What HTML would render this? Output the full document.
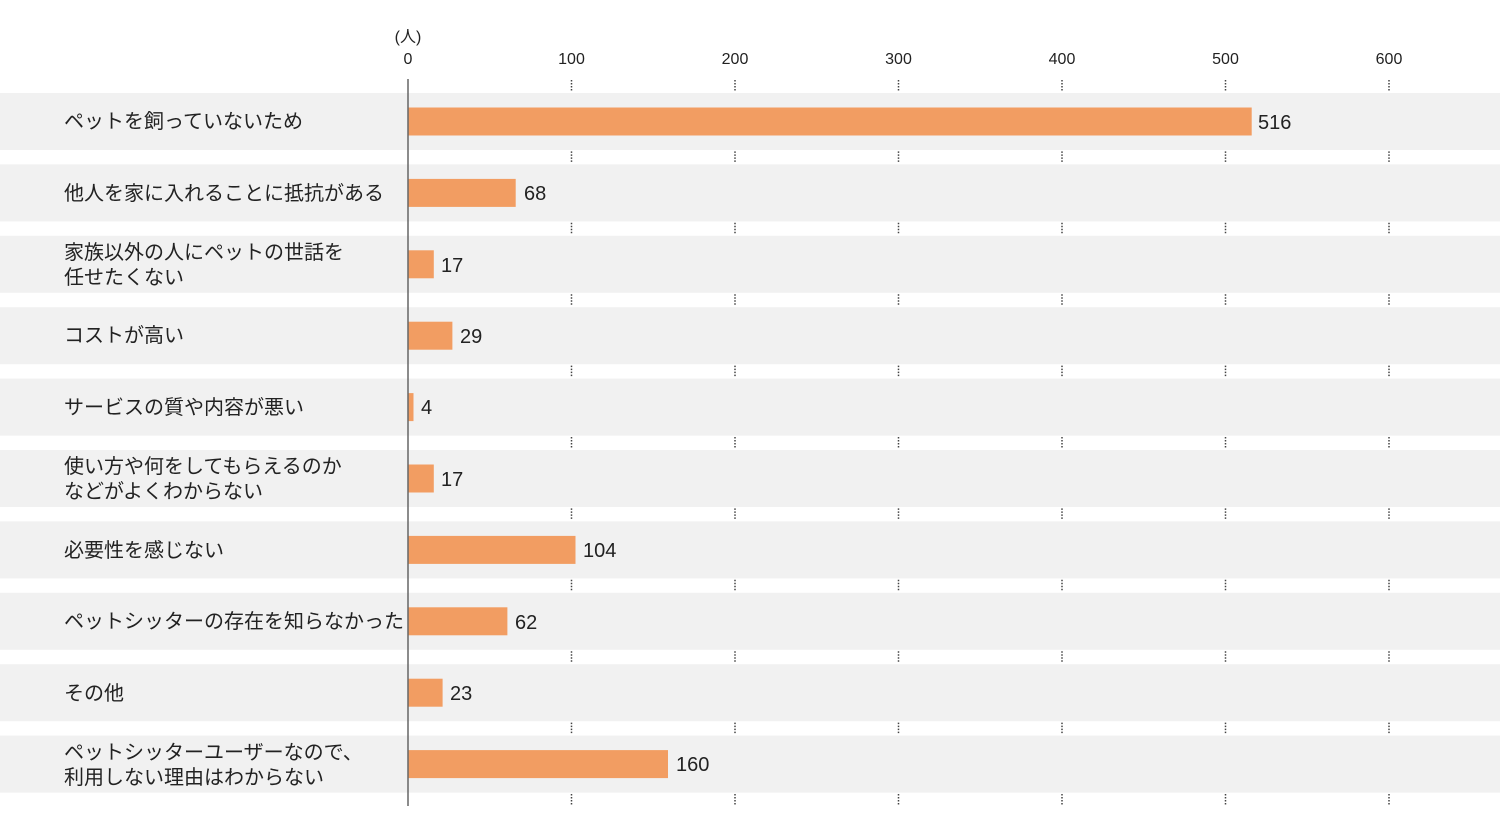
<!DOCTYPE html>
<html><head><meta charset="utf-8"><style>
html,body{margin:0;padding:0;background:#fff}
svg text{font-family:"Liberation Sans","Noto Sans CJK JP",sans-serif;fill:#222}
</style></head><body>
<svg width="1500" height="833" viewBox="0 0 1500 833" xmlns="http://www.w3.org/2000/svg">
<g id="bands" fill="#f1f1f1">
<rect x="0" y="93" width="1500" height="57"/>
<rect x="0" y="164.4" width="1500" height="57"/>
<rect x="0" y="235.8" width="1500" height="57"/>
<rect x="0" y="307.2" width="1500" height="57"/>
<rect x="0" y="378.6" width="1500" height="57"/>
<rect x="0" y="450" width="1500" height="57"/>
<rect x="0" y="521.4" width="1500" height="57"/>
<rect x="0" y="592.8" width="1500" height="57"/>
<rect x="0" y="664.2" width="1500" height="57"/>
<rect x="0" y="735.6" width="1500" height="57"/>
</g>
<g stroke="#444" stroke-width="1.5" stroke-dasharray="1.5,1.5">
<g id="t">
<line x1="571.5" y1="80" x2="571.5" y2="91"/><line x1="735" y1="80" x2="735" y2="91"/><line x1="898.5" y1="80" x2="898.5" y2="91"/><line x1="1062" y1="80" x2="1062" y2="91"/><line x1="1225.5" y1="80" x2="1225.5" y2="91"/><line x1="1389" y1="80" x2="1389" y2="91"/>
</g>
<use href="#t" y="71.4"/><use href="#t" y="142.8"/><use href="#t" y="214.2"/><use href="#t" y="285.6"/><use href="#t" y="357"/><use href="#t" y="428.4"/><use href="#t" y="499.8"/><use href="#t" y="571.2"/><use href="#t" y="642.6"/><use href="#t" y="714"/>
</g>
<g font-size="16" text-anchor="middle">
<text x="408" y="42">(人)</text>
<text x="408" y="64">0</text><text x="571.5" y="64">100</text><text x="735" y="64">200</text><text x="898.5" y="64">300</text><text x="1062" y="64">400</text><text x="1225.5" y="64">500</text><text x="1389" y="64">600</text>
</g>
<g fill="#f29d62">
<rect x="408" y="107.5" width="843.7" height="28"/>
<rect x="408" y="178.9" width="107.7" height="28"/>
<rect x="408" y="250.3" width="25.8" height="28"/>
<rect x="408" y="321.7" width="44.4" height="28"/>
<rect x="408" y="393.1" width="5.5" height="28"/>
<rect x="408" y="464.5" width="25.8" height="28"/>
<rect x="408" y="535.9" width="167.5" height="28"/>
<rect x="408" y="607.3" width="99.4" height="28"/>
<rect x="408" y="678.7" width="34.6" height="28"/>
<rect x="408" y="750.1" width="260" height="28"/>
</g>
<line x1="408" y1="79" x2="408" y2="806" stroke="#666" stroke-width="1.5"/>
<g font-size="20">
<text x="1258" y="129">516</text>
<text x="524" y="200">68</text>
<text x="441" y="272">17</text>
<text x="460" y="343">29</text>
<text x="421" y="414">4</text>
<text x="441" y="486">17</text>
<text x="583" y="557">104</text>
<text x="515" y="629">62</text>
<text x="450" y="700">23</text>
<text x="676" y="771">160</text>
</g>
<g font-size="20">
<text x="64" y="128">ペットを飼っていないため</text>
<text x="64" y="200">他人を家に入れることに抵抗がある</text>
<text x="64" y="259">家族以外の人にペットの世話を</text>
<text x="64" y="284">任せたくない</text>
<text x="64" y="342">コストが高い</text>
<text x="64" y="414">サービスの質や内容が悪い</text>
<text x="64" y="473">使い方や何をしてもらえるのか</text>
<text x="64" y="498">などがよくわからない</text>
<text x="64" y="557">必要性を感じない</text>
<text x="64" y="628">ペットシッターの存在を知らなかった</text>
<text x="64" y="700">その他</text>
<text x="64" y="759">ペットシッターユーザーなので、</text>
<text x="64" y="784">利用しない理由はわからない</text>
</g>
</svg>
</body></html>
